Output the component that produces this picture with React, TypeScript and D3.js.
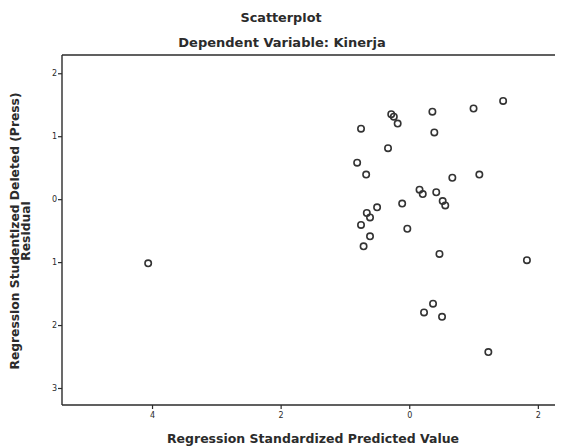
import { useEffect, useRef } from 'react';
import * as d3 from 'd3';

// standardized predicted value (x) and studentized deleted residual (y)
const predicted = [
    -0.75, -0.28, -0.24, -0.18, 0.36, 1.0, 1.46, 0.39, -0.33, -0.81, -0.67,
    0.67, 1.09, 0.16, 0.21, 0.42, 0.52, 0.56, -0.11, -0.5, -0.66, -0.61,
    -0.75, -0.03, -0.61, -0.71, 0.47, 1.83, 0.37, 0.23, 0.51, 1.23, -4.06
];
const residual = [
    1.12, 1.35, 1.31, 1.2, 1.39, 1.44, 1.56, 1.06, 0.81, 0.58, 0.39,
    0.34, 0.39, 0.15, 0.08, 0.11, -0.03, -0.1, -0.07, -0.13, -0.22, -0.29,
    -0.41, -0.47, -0.59, -0.75, -0.87, -0.97, -1.66, -1.8, -1.87, -2.43, -1.02
];

// tick labels as printed (minus signs lost in the scan)
const xTicks = [-4, -2, 0, 2];
const xTickLabels = ['4', '2', '0', '2'];
const yTicks = [2, 1, 0, -1, -2, -3];
const yTickLabels = ['2', '1', '0', '1', '2', '3'];

const title = 'Scatterplot';
const subtitle = 'Dependent Variable: Kinerja';
const xLabel = 'Regression Standardized Predicted Value';
const yLabelLines = ['Regression Studentized Deleted (Press)', 'Residual'];

const App = () => {
    const svgRef = useRef<SVGSVGElement>(null);

    useEffect(() => {
        if (!svgRef.current) return;
        const width = 561;
        const height = 448;
        const margin = { top: 55, right: 0, bottom: 43, left: 62 };
        const font = '"DejaVu Sans", Verdana, sans-serif';
        const ink = '#2b2b2b';

        d3.select(svgRef.current).selectAll('*').remove();
        const svg = d3.select(svgRef.current)
            .attr('width', width)
            .attr('height', height);

        const x = d3.scaleLinear()
            .domain([-5.4, 2.36])
            .range([margin.left, width - margin.right]);
        const y = d3.scaleLinear()
            .domain([-3.27, 2.29])
            .range([height - margin.bottom, margin.top]);

        // axes
        const xAxis = svg.append('g')
            .attr('transform', `translate(0,${height - margin.bottom})`)
            .call(d3.axisBottom(x)
                .tickValues(xTicks)
                .tickSize(4)
                .tickFormat((_, i) => xTickLabels[i]));
        const yAxis = svg.append('g')
            .attr('transform', `translate(${margin.left},0)`)
            .call(d3.axisLeft(y)
                .tickValues(yTicks)
                .tickSize(4)
                .tickFormat((_, i) => yTickLabels[i]));

        [xAxis, yAxis].forEach(g => {
            g.select('.domain').remove();
            g.selectAll('line').attr('stroke', ink).attr('stroke-width', 1.2);
            g.selectAll('text')
                .attr('fill', ink)
                .style('font-family', font)
                .style('font-size', '8px');
        });
        yAxis.selectAll('text').attr('x', -5);

        // frame: top, left, bottom (no right edge in the print)
        const frame = svg.append('g').attr('stroke', ink).attr('stroke-width', 1.4);
        frame.append('line')
            .attr('x1', margin.left).attr('x2', width - 6)
            .attr('y1', margin.top).attr('y2', margin.top);
        frame.append('line')
            .attr('x1', margin.left).attr('x2', margin.left)
            .attr('y1', margin.top).attr('y2', height - margin.bottom);
        frame.append('line')
            .attr('x1', margin.left).attr('x2', width - 6)
            .attr('y1', height - margin.bottom).attr('y2', height - margin.bottom);

        // points
        svg.append('g')
            .selectAll('circle')
            .data(predicted.map((p, i) => [p, residual[i]]))
            .enter()
            .append('circle')
            .attr('cx', d => x(d[0]))
            .attr('cy', d => y(d[1]))
            .attr('r', 3.2)
            .attr('fill', 'none')
            .attr('stroke', '#333')
            .attr('stroke-width', 1.6);

        // titles
        svg.append('text')
            .attr('x', 281).attr('y', 22)
            .attr('text-anchor', 'middle')
            .attr('fill', ink)
            .style('font-family', font)
            .style('font-weight', 'bold')
            .style('font-size', '12.8px')
            .text(title);
        svg.append('text')
            .attr('x', 282).attr('y', 47)
            .attr('text-anchor', 'middle')
            .attr('fill', ink)
            .style('font-family', font)
            .style('font-weight', 'bold')
            .style('font-size', '13px')
            .text(subtitle);

        svg.append('text')
            .attr('x', 313).attr('y', 443)
            .attr('text-anchor', 'middle')
            .attr('fill', ink)
            .style('font-family', font)
            .style('font-weight', 'bold')
            .style('font-size', '12.5px')
            .text(xLabel);

        const yl = svg.append('text')
            .attr('transform', `translate(19,${231}) rotate(-90)`)
            .attr('text-anchor', 'middle')
            .attr('fill', ink)
            .style('font-family', font)
            .style('font-weight', 'bold')
            .style('font-size', '12.3px');
        yLabelLines.forEach((t, i) => {
            yl.append('tspan')
                .attr('x', 0)
                .attr('dy', i === 0 ? 0 : 11)
                .text(t);
        });
    }, []);

    return (
        <svg ref={svgRef} role="img" aria-label="Scatterplot of residuals"
            style={{ position: 'absolute', top: 0, left: 0, background: '#fff' }} />
    );
};

export default App;
